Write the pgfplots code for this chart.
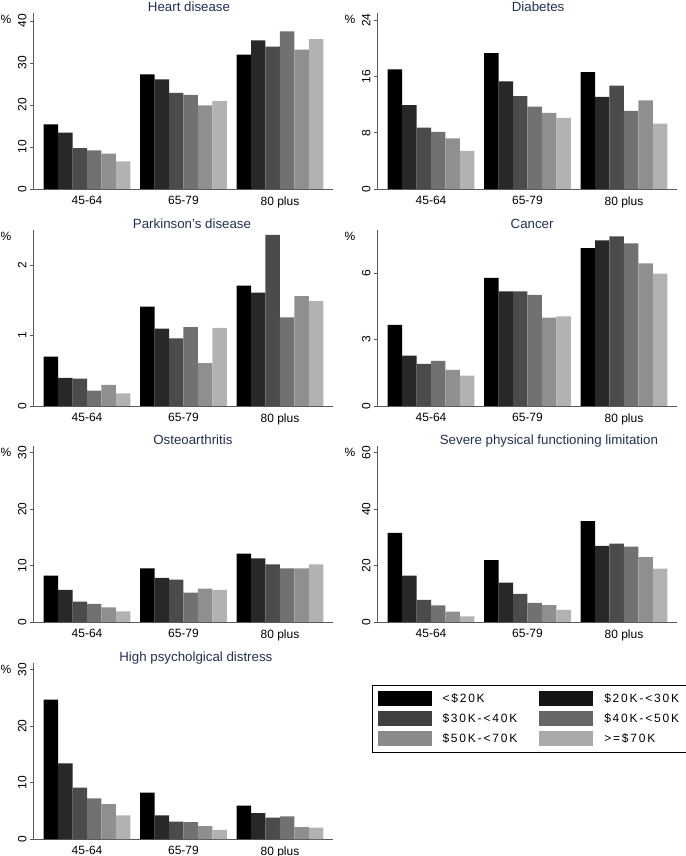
\documentclass[border=0pt]{standalone}
\usepackage{fontspec}
\setmainfont{Liberation Sans}
\usepackage{pgfplots}
\usepackage{pgfplotstable}
\pgfplotsset{compat=1.18}

\definecolor{ttl}{RGB}{35,48,85}
\definecolor{axc}{RGB}{90,90,90}
\definecolor{b1}{RGB}{0,0,0}
\definecolor{b2}{RGB}{40,40,40}
\definecolor{b3}{RGB}{75,75,75}
\definecolor{b4}{RGB}{113,113,113}
\definecolor{b5}{RGB}{143,143,143}
\definecolor{b6}{RGB}{178,178,178}
\definecolor{l1}{RGB}{0,0,0}
\definecolor{l2}{RGB}{20,20,20}
\definecolor{l3}{RGB}{64,64,64}
\definecolor{l4}{RGB}{102,102,102}
\definecolor{l5}{RGB}{138,138,138}
\definecolor{l6}{RGB}{170,170,170}

% columns: age group, then income bands <20K ... >=70K
\pgfplotstableread{
g a b c d e f
0 15.4 13.4 9.7 9.2 8.4 6.6
1 27.3 26.1 22.9 22.4 19.9 20.9
2 32.0 35.4 33.9 37.5 33.2 35.7
}\heart
\pgfplotstableread{
g a b c d e f
0 17.0 11.9 8.7 8.1 7.2 5.4
1 19.3 15.3 13.2 11.7 10.8 10.1
2 16.6 13.1 14.7 11.1 12.6 9.3
}\diab
\pgfplotstableread{
g a b c d e f
0 0.70 0.40 0.39 0.22 0.30 0.18
1 1.41 1.10 0.96 1.12 0.61 1.11
2 1.71 1.61 2.43 1.26 1.56 1.49
}\park
\pgfplotstableread{
g a b c d e f
0 3.66 2.28 1.90 2.04 1.63 1.37
1 5.79 5.18 5.18 5.02 3.99 4.05
2 7.13 7.48 7.66 7.34 6.44 5.98
}\cancer
\pgfplotstableread{
g a b c d e f
0 8.2 5.7 3.6 3.2 2.6 1.9
1 9.5 7.8 7.5 5.2 5.9 5.7
2 12.1 11.3 10.2 9.5 9.5 10.2
}\osteo
\pgfplotstableread{
g a b c d e f
0 31.6 16.4 7.8 5.9 3.7 2.0
1 21.9 14.0 10.0 6.8 6.0 4.3
2 35.8 27.0 27.8 26.7 23.0 18.9
}\severe
\pgfplotstableread{
g a b c d e f
0 24.7 13.4 9.1 7.2 6.2 4.2
1 8.2 4.2 3.1 3.0 2.3 1.6
2 5.9 4.6 3.8 4.0 2.1 2.0
}\psych

\pgfplotsset{
  panel/.style={
    scale only axis, width=300pt, height=176pt,
    anchor=south west,
    xmin=-0.56, xmax=2.55, ymin=0,
    axis x line*=bottom, axis y line*=left,
    axis line style={draw=axc, line width=0.9pt, -},
    xtick={0,1,2}, xticklabels={45-64,65-79,80 plus},
    x tick style={draw=none},
    y tick style={draw=axc, line width=0.8pt},
    tick align=outside, major tick length=3pt,
    ticklabel style={font=\fontsize{12}{12}\selectfont},
    yticklabel style={rotate=90, anchor=south},
    xticklabel style={anchor=north, yshift=-1pt},
    /pgf/number format/assume math mode=true,
    title style={font=\fontsize{13.3}{13.3}\selectfont, text=ttl, anchor=base, yshift=-4.5pt},
    ybar, bar width=0.15,
    clip=false,
    extra description/.code={
      \node[font=\fontsize{12}{12}\selectfont, xshift=-27pt, yshift=-6pt]
        at (axis description cs:0,1) {\%};
    },
  },
  tpos/.style={title style={at={(axis description cs:#1,1)}}},
  s1/.style={fill=b1, draw=none, bar shift=-0.375},
  s2/.style={fill=b2, draw=none, bar shift=-0.225},
  s3/.style={fill=b3, draw=none, bar shift=-0.075},
  s4/.style={fill=b4, draw=none, bar shift=0.075},
  s5/.style={fill=b5, draw=none, bar shift=0.225},
  s6/.style={fill=b6, draw=none, bar shift=0.375},
}

\newcommand{\sixbars}[1]{%
  \addplot[s1] table[x=g,y=a]{#1};
  \addplot[s2] table[x=g,y=b]{#1};
  \addplot[s3] table[x=g,y=c]{#1};
  \addplot[s4] table[x=g,y=d]{#1};
  \addplot[s5] table[x=g,y=e]{#1};
  \addplot[s6] table[x=g,y=f]{#1};
}

\begin{document}
\begin{tikzpicture}
\useasboundingbox (0,0) rectangle (685pt,856pt);

\begin{axis}[panel, at={(33pt,667pt)}, ymax=41.9, ytick={0,10,20,30,40},
  title={Heart disease}, tpos=0.52]
\sixbars{\heart}
\end{axis}

\begin{axis}[panel, at={(377pt,667pt)}, ymax=25.0, ytick={0,8,16,24},
  title={Diabetes}, tpos=0.537]
\sixbars{\diab}
\end{axis}

\begin{axis}[panel, at={(33pt,450pt)}, ymax=2.5, ytick={0,1,2},
  title={Parkinson's disease}, tpos=0.53]
\sixbars{\park}
\end{axis}

\begin{axis}[panel, at={(377pt,450pt)}, ymax=7.95, ytick={0,3,6},
  title={Cancer}, tpos=0.517]
\sixbars{\cancer}
\end{axis}

\begin{axis}[panel, at={(33pt,234pt)}, ymax=31.2, ytick={0,10,20,30},
  title={Osteoarthritis}, tpos=0.533]
\sixbars{\osteo}
\end{axis}

\begin{axis}[panel, at={(377pt,234pt)}, ymax=62.4, ytick={0,20,40,60},
  title={Severe physical functioning limitation}, tpos=0.573]
\sixbars{\severe}
\end{axis}

\begin{axis}[panel, at={(33pt,17pt)}, ymax=31.2, ytick={0,10,20,30},
  title={High psycholgical distress}, tpos=0.543]
\sixbars{\psych}
\end{axis}

% legend
\begin{axis}[hide axis, scale only axis, width=312pt, height=68pt,
  anchor=north west, at={(372pt,171pt)},
  xmin=0, xmax=1, ymin=0, ymax=1,
  legend columns=2, legend cell align=left,
  legend image code/.code={\fill[#1] (0pt,-7.5pt) rectangle (54pt,7.5pt); \path (63pt,0pt);},
  legend style={at={(0,1)}, anchor=north west, draw=black, line width=1pt,
    fill=white, inner xsep=5pt, inner ysep=6pt, row sep=5pt,
    font=\fontsize{12}{12}\selectfont\addfontfeatures{LetterSpace=15},
    /tikz/every even column/.append style={column sep=20pt}},
]
\addlegendimage{fill=l1, draw=none}\addlegendentry{<\$20K}
\addlegendimage{fill=l2, draw=none}\addlegendentry{\$20K-<30K}
\addlegendimage{fill=l3, draw=none}\addlegendentry{\$30K-<40K}
\addlegendimage{fill=l4, draw=none}\addlegendentry{\$40K-<50K}
\addlegendimage{fill=l5, draw=none}\addlegendentry{\$50K-<70K}
\addlegendimage{fill=l6, draw=none}\addlegendentry{>=\$70K}
\end{axis}
\end{tikzpicture}
\end{document}
